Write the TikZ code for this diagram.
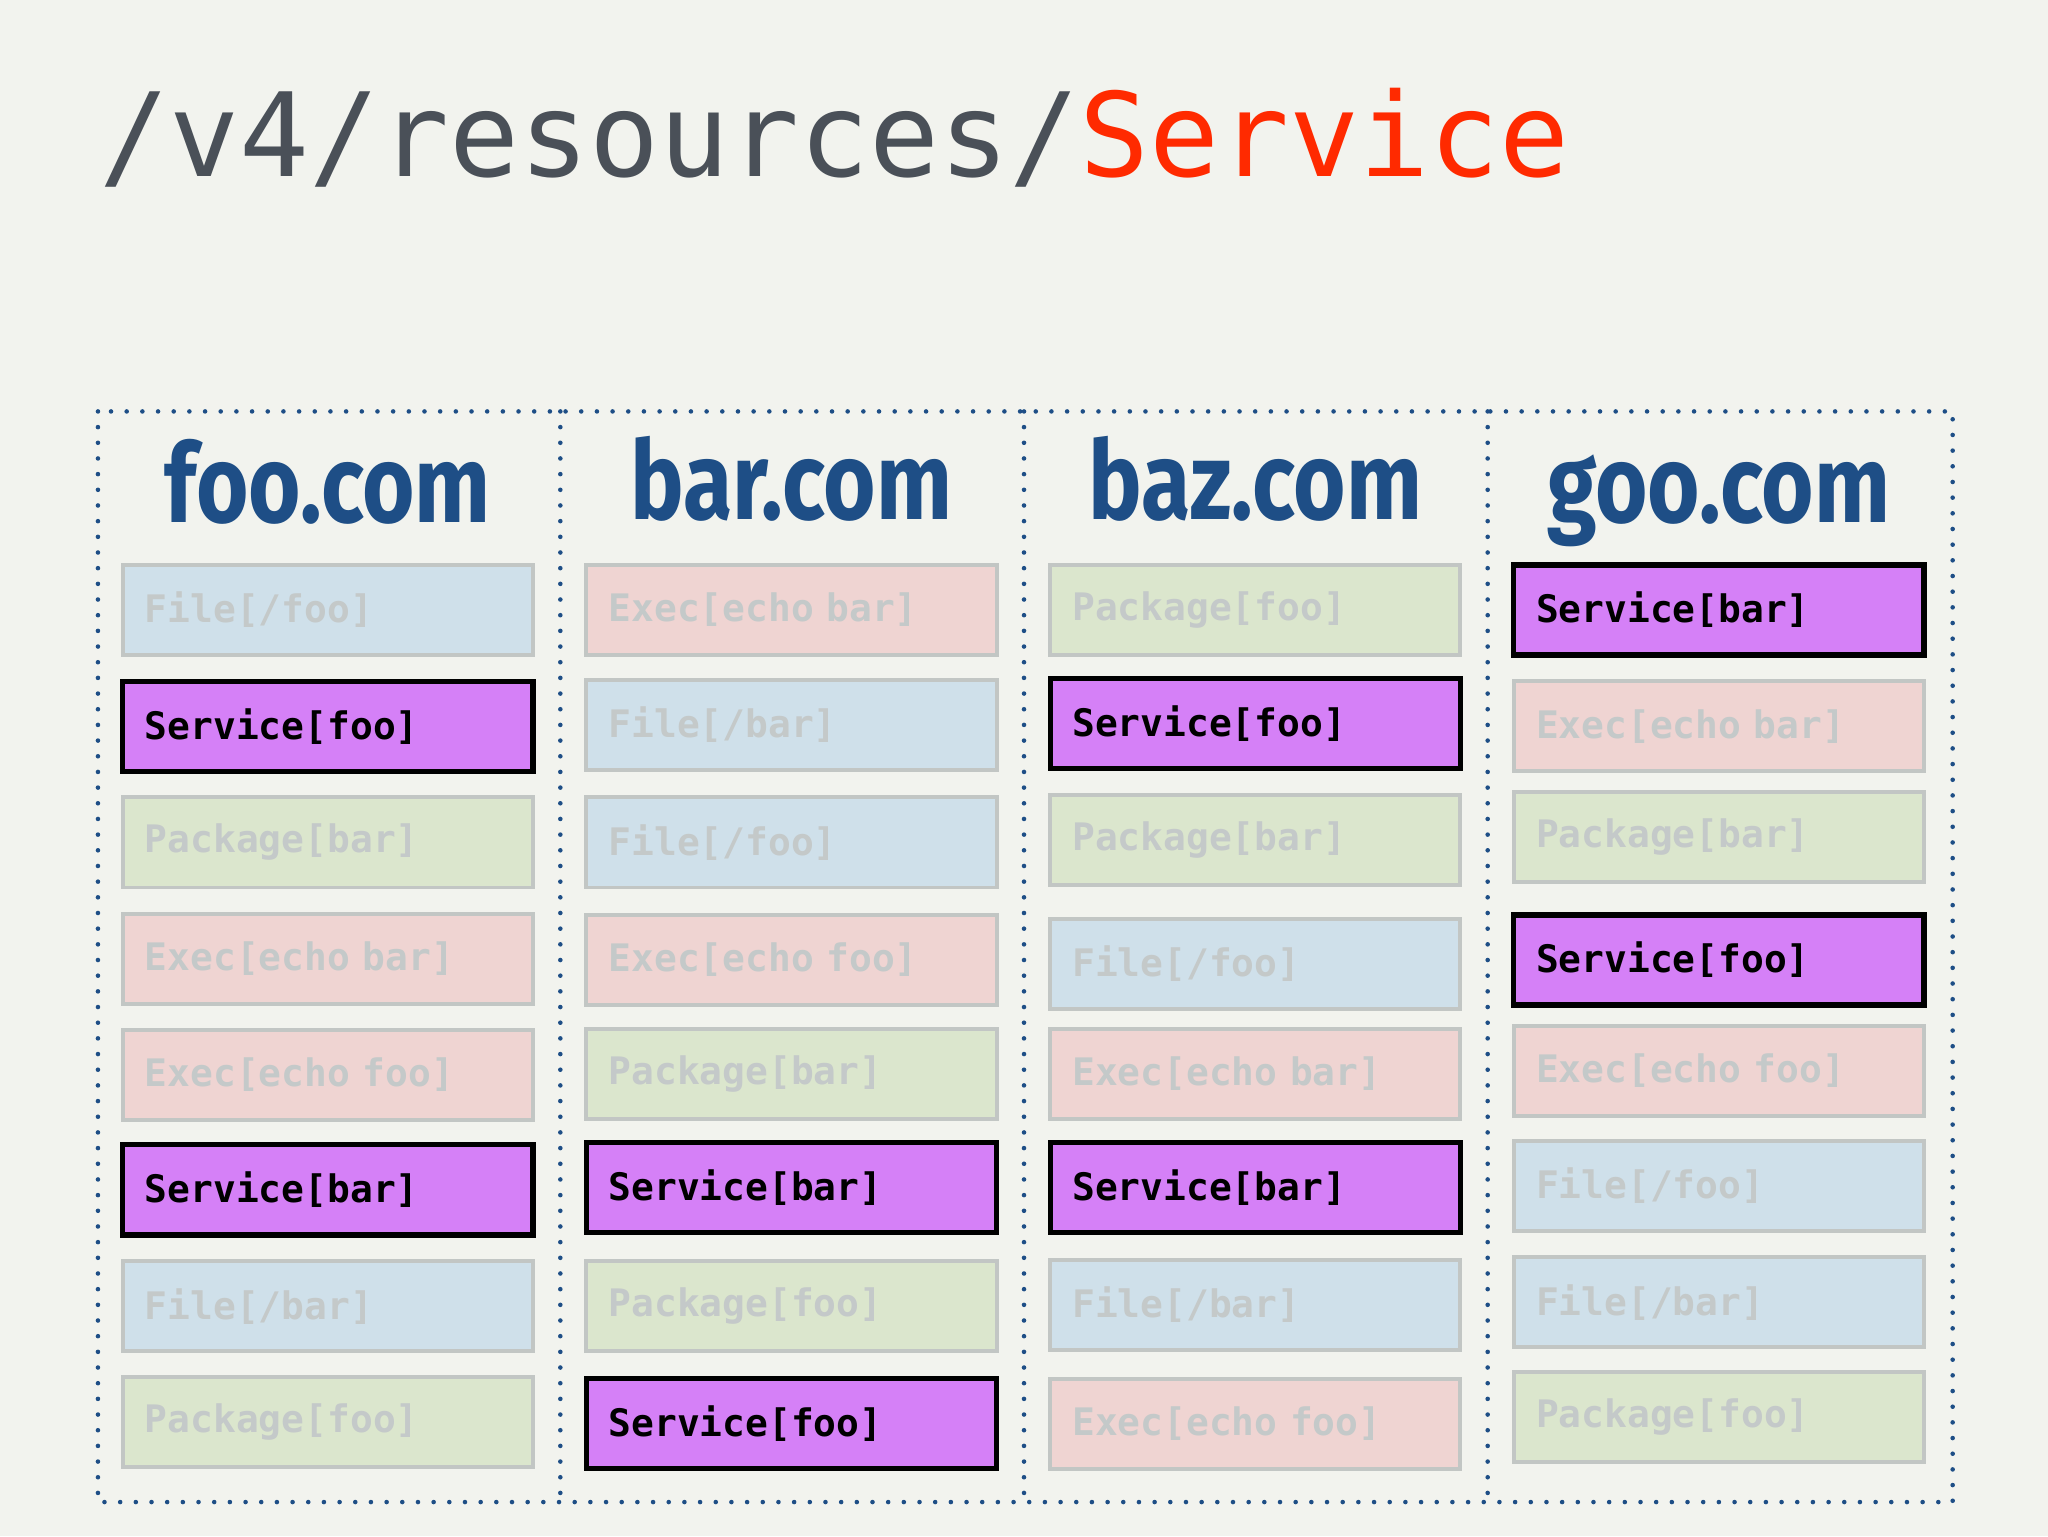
\documentclass[tikz,border=0pt]{standalone}
\usepackage{fontspec}
\setmonofont{DejaVu Sans Mono}
\setsansfont{Fira Sans}
\begin{document}
\begin{tikzpicture}[x=1pt,y=-1pt,
  base/.style={minimum width=314pt,minimum height=69pt,anchor=center,inner sep=0pt,font=\ttfamily\bfseries\fontsize{29}{29}\selectfont,line width=3pt,text width=280pt,align=left},
  fil/.style={base,fill=fileC,draw=edgeC,text=fadeC},
  exe/.style={base,fill=execC,draw=edgeC,text=fadeC},
  pkg/.style={base,fill=pkgC,draw=edgeC,text=fadeC},
  svc/.style={base,fill=svcC,draw=black,line width=4pt,text=black},
  head/.style={font=\sffamily\bfseries\fontsize{84}{84}\selectfont,text=headC,anchor=base},
  frame/.style={draw=headC,line width=3.5pt,dash pattern=on 0pt off 12pt,line cap=round}]
\definecolor{bgC}{HTML}{F2F3EE}
\definecolor{fileC}{HTML}{CFE0EA}
\definecolor{execC}{HTML}{EFD4D2}
\definecolor{pkgC}{HTML}{DBE6CD}
\definecolor{svcC}{HTML}{D580F7}
\definecolor{edgeC}{HTML}{C2C6C4}
\definecolor{fadeC}{HTML}{C4C9C9}
\definecolor{headC}{HTML}{1E4E86}
\definecolor{titleC}{HTML}{4A5058}
\definecolor{redC}{HTML}{FF2A00}
\fill[bgC] (0,0) rectangle (1568,1176);
\useasboundingbox (0,0) rectangle (1568,1176);
\node[anchor=base west,inner sep=0pt,font=\ttfamily\fontsize{89}{89}\selectfont,text=titleC] (title) at (76,135) {/v4/resources/\textcolor{redC}{Service}};
\draw[frame] (75,315) rectangle (1495,1150);
\foreach \x in {429,784,1139} \draw[frame] (\x,315) -- (\x,1150);
\node[head] (h1) at (251,400) {\scalebox{0.82}[1]{foo.com}};
\node[head] (h2) at (606,398) {\scalebox{0.82}[1]{bar.com}};
\node[head] (h3) at (961,398) {\scalebox{0.82}[1]{baz.com}};
\node[head] (h4) at (1316,400) {\scalebox{0.82}[1]{goo.com}};
% column 1
\node[fil] (a1) at (251,467) {File[/foo]};
\node[svc] (a2) at (251,556) {Service[foo]};
\node[pkg] (a3) at (251,645) {Package[bar]};
\node[exe] (a4) at (251,734) {Exec[echo bar]};
\node[exe] (a5) at (251,823) {Exec[echo foo]};
\node[svc] (a6) at (251,911) {Service[bar]};
\node[fil] (a7) at (251,1000) {File[/bar]};
\node[pkg] (a8) at (251,1089) {Package[foo]};
% column 2
\node[exe] (b1) at (606,467) {Exec[echo bar]};
\node[fil] (b2) at (606,555) {File[/bar]};
\node[fil] (b3) at (606,645) {File[/foo]};
\node[exe] (b4) at (606,735) {Exec[echo foo]};
\node[pkg] (b5) at (606,822) {Package[bar]};
\node[svc] (b6) at (606,909) {Service[bar]};
\node[pkg] (b7) at (606,1000) {Package[foo]};
\node[svc] (b8) at (606,1090) {Service[foo]};
% column 3
\node[pkg] (c1) at (961,467) {Package[foo]};
\node[svc] (c2) at (961,554) {Service[foo]};
\node[pkg] (c3) at (961,643) {Package[bar]};
\node[fil] (c4) at (961,738) {File[/foo]};
\node[exe] (c5) at (961,822) {Exec[echo bar]};
\node[svc] (c6) at (961,909) {Service[bar]};
\node[fil] (c7) at (961,999) {File[/bar]};
\node[exe] (c8) at (961,1090) {Exec[echo foo]};
% column 4
\node[svc] (d1) at (1316,467) {Service[bar]};
\node[exe] (d2) at (1316,556) {Exec[echo bar]};
\node[pkg] (d3) at (1316,641) {Package[bar]};
\node[svc] (d4) at (1316,735) {Service[foo]};
\node[exe] (d5) at (1316,820) {Exec[echo foo]};
\node[fil] (d6) at (1316,908) {File[/foo]};
\node[fil] (d7) at (1316,997) {File[/bar]};
\node[pkg] (d8) at (1316,1085) {Package[foo]};
\end{tikzpicture}
\end{document}
